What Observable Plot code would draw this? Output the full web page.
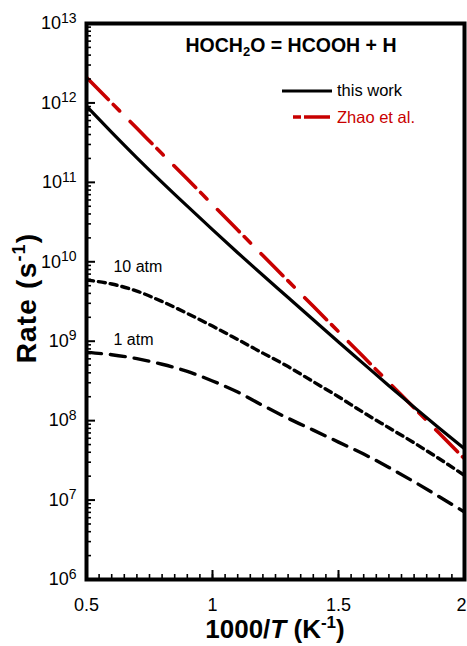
<!DOCTYPE html>
<html><head><meta charset="utf-8">
<script src="https://cdn.jsdelivr.net/npm/d3@7"></script>
<script src="https://cdn.jsdelivr.net/npm/@observablehq/plot@0.6"></script>
<style>
html,body{margin:0;padding:0;background:#fff;}
svg{display:block;}
</style></head><body><div id="chart"></div>
<script>
// 1000/T (K^-1)
const invT = [0.5,0.6,0.7,0.8,0.9,1.0,1.1,1.2,1.3,1.4,1.5,1.6,1.7,1.8,1.9,2.0];
// Rate (s^-1)
const thisWork = [9.1e11,4.27e11,2.04e11,1.0e11,5.01e10,2.54e10,1.30e10,6.76e9,3.55e9,1.86e9,9.77e8,5.19e8,2.75e8,1.48e8,8.04e7,4.42e7];
const zhao     = [2.09e12,1.0e12,4.79e11,2.29e11,1.10e11,5.25e10,2.51e10,1.20e10,5.75e9,2.75e9,1.32e9,6.31e8,3.02e8,1.45e8,6.92e7,3.31e7];
const atm10    = [5.89e9,5.25e9,4.27e9,3.16e9,2.24e9,1.55e9,1.05e9,7.08e8,4.79e8,3.09e8,2.0e8,1.26e8,8.13e7,5.25e7,3.31e7,2.04e7];
const atm1     = [7.24e8,6.76e8,6.03e8,5.13e8,4.17e8,3.16e8,2.29e8,1.55e8,1.07e8,7.59e7,5.37e7,3.80e7,2.57e7,1.70e7,1.10e7,7.08e6];
const yDecades = [1e6,1e7,1e8,1e9,1e10,1e11,1e12,1e13];
const xMajor = [0.5,1,1.5,2];
const xTickLabels = ["0.5","1","1.5","2"];
const pressureLabels = [{text:"10 atm", x:0.607, y:8.7e9},{text:"1 atm", x:0.607, y:1.04e9}];
const seriesNames = ["this work","Zhao et al."];
const titleParts = ["HOCH","2","O = HCOOH + H"];

const rows = s => invT.map((x,i)=>({x, y:s[i]}));
const yMinor = yDecades.slice(0,-1).flatMap(d => [2,3,4,5,6,7,8,9].map(m => m*d));
const xMinor = d3.range(0.5, 2.0001, 0.05);

const FONT = "'Liberation Sans', Arial, Helvetica, sans-serif";
const W=467, H=646, mL=86, mR=3, mT=23, mB=67;
const fw = W-mL-mR, fh = H-mT-mB;
const RED = "#c80000";

const chart = Plot.plot({
  width: W, height: H,
  marginLeft: mL, marginRight: mR, marginTop: mT, marginBottom: mB,
  style: {fontFamily: FONT, background: "white", color: "black", overflow: "visible"},
  x: {domain: [0.5, 2], label: null},
  y: {type: "log", domain: [1e6, 1e13], label: null},
  marks: [
    Plot.line(rows(atm1), {x:"x", y:"y", stroke:"black", strokeWidth:3.4, strokeDasharray:"15,9", curve:"monotone-x", clip:true}),
    Plot.line(rows(atm10), {x:"x", y:"y", stroke:"black", strokeWidth:3.4, strokeDasharray:"7,5", curve:"monotone-x", clip:true}),
    Plot.line(rows(zhao), {x:"x", y:"y", stroke:RED, strokeWidth:3.6, strokeDasharray:"31,7,9,15", curve:"monotone-x", clip:true}),
    Plot.line(rows(thisWork), {x:"x", y:"y", stroke:"black", strokeWidth:3.2, curve:"monotone-x", clip:true}),
    Plot.tickY(yMinor, {y:d=>d, insetRight: fw-5, stroke:"black", strokeWidth:1.6}),
    Plot.tickY(yDecades, {y:d=>d, insetRight: fw-9, stroke:"black", strokeWidth:2}),
    Plot.tickX(xMinor, {x:d=>d, insetTop: fh-5, stroke:"black", strokeWidth:1.6}),
    Plot.tickX(xMajor, {x:d=>d, insetTop: fh-9, stroke:"black", strokeWidth:2}),
    Plot.axisY(yDecades, {tickSize:0, tickPadding:10, fontSize:18, tickFormat: d => String(Math.round(Math.log10(d))), label:null}),
    Plot.axisX(xMajor, {tickSize:0, tickPadding:19, fontSize:18, tickFormat: d => xTickLabels[xMajor.indexOf(d)], label:null}),
    Plot.text(pressureLabels, {x:"x", y:"y", text:"text", textAnchor:"start", fontSize:16, fill:"black"}),
    Plot.frame({stroke:"black", strokeWidth:4})
  ]
});
document.getElementById("chart").appendChild(chart);

const svg = d3.select(chart);
// superscript exponents on y tick labels
svg.selectAll('g[aria-label="y-axis tick label"] text').each(function(){
  const e = this.textContent;
  const t = d3.select(this);
  t.text("");
  t.append("tspan").text("10");
  t.append("tspan").attr("dy", -6.5).attr("font-size", 14).text(e);
});
svg.selectAll('g[aria-label="x-axis tick label"] text').filter((d,i,n) => i === n.length-1).attr("dx", -3);

const g = svg.append("g").attr("font-family", FONT).attr("text-anchor","start");
// title
const title = g.append("text").attr("x", 291).attr("y", 52).attr("text-anchor","middle")
  .attr("font-size", 19.5).attr("font-weight","bold").attr("fill","black");
title.append("tspan").text(titleParts[0]);
title.append("tspan").attr("font-size", 13).attr("dy", 4).text(titleParts[1]);
title.append("tspan").attr("dy", -4).text(titleParts[2]);

// legend
g.append("line").attr("x1",282).attr("x2",332).attr("y1",91).attr("y2",91).attr("stroke","black").attr("stroke-width",3);
g.append("text").attr("x",337).attr("y",96).attr("text-anchor","start").attr("font-size",16.5).attr("fill","black").text(seriesNames[0]);
g.append("line").attr("x1",293).attr("x2",330).attr("y1",117).attr("y2",117).attr("stroke",RED).attr("stroke-width",3.5).attr("stroke-dasharray","8,3,26,100");
g.append("text").attr("x",337).attr("y",123).attr("text-anchor","start").attr("font-size",16.5).attr("fill",RED).text(seriesNames[1]);

// y label
const yl = g.append("text").attr("transform","translate(36,298) rotate(-90)").attr("text-anchor","middle")
  .attr("font-size",28).attr("font-weight","bold").attr("letter-spacing","1.2px").attr("fill","black");
yl.append("tspan").text("Rate (s");
yl.append("tspan").attr("font-size",18).attr("dy",-11).text("-1");
yl.append("tspan").attr("dy",11).text(")");

// x label
const xl = g.append("text").attr("x",275).attr("y",638).attr("text-anchor","middle")
  .attr("font-size",26).attr("font-weight","bold").attr("fill","black");
xl.append("tspan").text("1000/");
xl.append("tspan").attr("font-style","italic").text("T");
xl.append("tspan").text(" (K");
xl.append("tspan").attr("font-size",17).attr("dy",-10).text("-1");
xl.append("tspan").attr("dy",10).text(")");
</script>
</body></html>
